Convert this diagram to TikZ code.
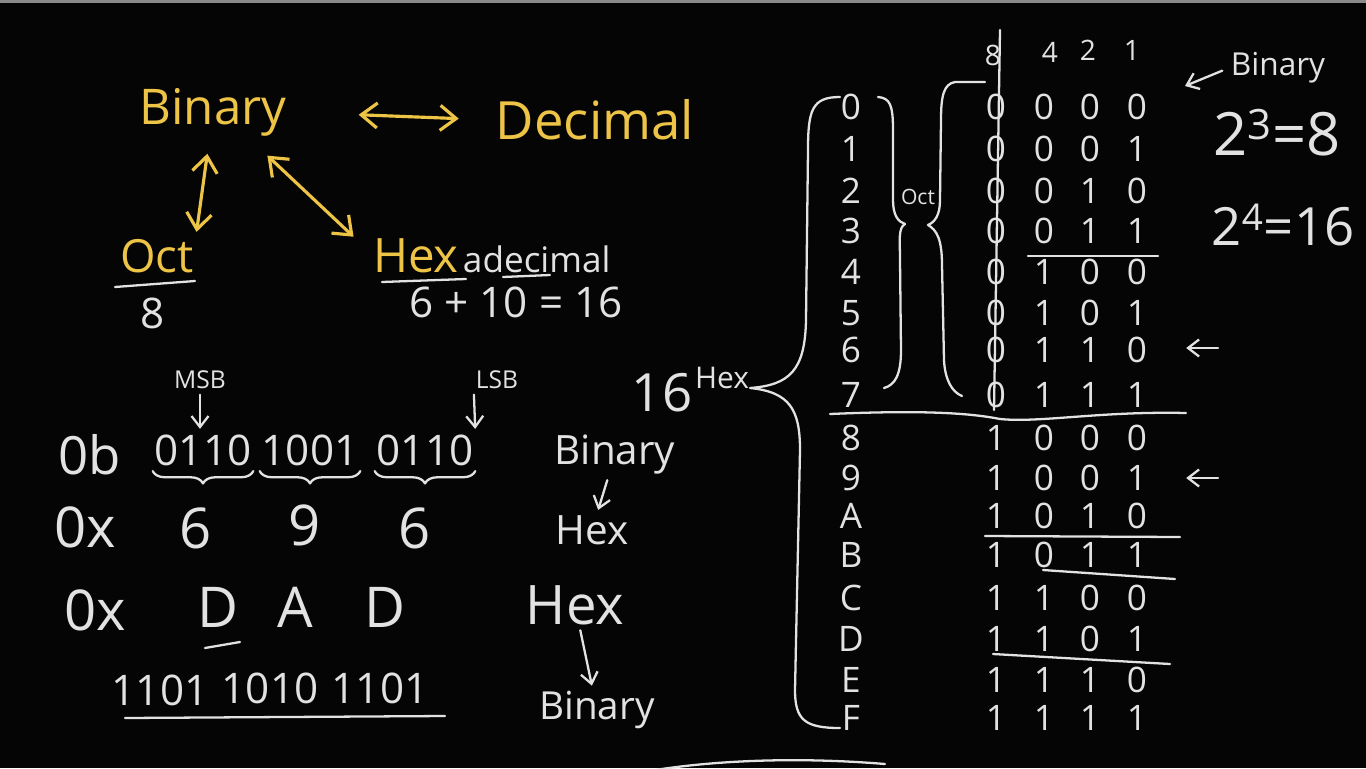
\documentclass[tikz,border=0pt]{standalone}
\usepackage{fontspec}
\setmainfont{Open Sans}
\usepackage{tikz}
\usetikzlibrary{arrows.meta,decorations.pathreplacing,positioning}
\definecolor{bbBoard}{HTML}{050505}
\definecolor{bbChalk}{HTML}{E2E2E2}
\definecolor{bbGold}{HTML}{EEC446}
\definecolor{bbEdge}{HTML}{8A8A8A}
\newcommand{\bbsize}[1]{\fontsize{#1}{#1}\selectfont}
\tikzset{
  bb board/.style={x=0.02cm, y=-0.02cm, line cap=round, line join=round},
  bb chalk/.style={text=bbChalk, inner sep=1pt},
  bb gold/.style={text=bbGold, inner sep=1pt},
  bb line/.style={draw=bbChalk, line width=1.3pt},
  bb arrow/.style={bb line, -{Straight Barb[length=2.2mm,width=3.4mm]}},
  bb gold arrow/.style={draw=bbGold, line width=1.8pt,
    {Straight Barb[length=3.2mm,width=5mm]}-{Straight Barb[length=3.2mm,width=5mm]}},
  bb brace/.style={bb line, decorate, decoration={brace, mirror, amplitude=7pt, raise=2pt}}
}

\begin{document}
\begin{tikzpicture}[bb board]
\useasboundingbox (0,0) rectangle (1366,768);
\fill[bbBoard] (0,0) rectangle (1366,768);
\fill[bbEdge] (0,0) rectangle (1366,3);

% number systems
\node[bb gold, font=\bbsize{28}] (bin) at (213,112) {Binary};
\node[bb gold, font=\bbsize{30}] (dec) at (595,120) {Decimal};
\node[bb gold, font=\bbsize{26}] (oct) at (157,256) {Oct};
\node[bb chalk, font=\bbsize{24}] (oct8) at (153,313) {8};
\node[bb gold, font=\bbsize{27}] (hex) at (416,256) {Hex};
\node[bb chalk, font=\bbsize{20}, anchor=base west] (hexdec) at (hex.base east) {adecimal};
\node[bb chalk, font=\bbsize{24}] (sum) at (516,302) {6 + 10 = 16};
\draw[bb gold arrow, shorten <=40pt, shorten >=20pt] (bin.east) -- (dec.west);
\draw[bb gold arrow, shorten <=9pt, shorten >=3pt] ([xshift=-2pt]bin.south) -- (oct.north east);
\draw[bb gold arrow] ([xshift=-12pt,yshift=-10pt]bin.south east) -- ([xshift=-10pt]hex.north west);
\draw[bb line] (115,287) -- (195,281);
\draw[bb line] (382,282) -- (466,279);
\draw[bb line] (503,277) -- (550,275);

% worked example
\node[bb chalk, font=\bbsize{14}] (msb) at (200,380) {MSB};
\node[bb chalk, font=\bbsize{14}] (lsb) at (497,380) {LSB};
\node[bb chalk, font=\bbsize{30}] (pre0b) at (90,455) {0b};
\node[bb chalk, font=\bbsize{24}] (nib1) at (203,450) {0110};
\node[bb chalk, font=\bbsize{24}] (nib2) at (310,450) {1001};
\node[bb chalk, font=\bbsize{24}] (nib3) at (425,450) {0110};
\draw[bb arrow, shorten <=2pt, shorten >=2pt] (msb.south) -- (msb.south |- nib1.north);
\draw[bb arrow, shorten <=2pt, shorten >=2pt] (lsb.south west) -- (nib3.north east);
\foreach \n in {nib1,nib2,nib3}
  \draw[bb brace] (\n.south west) -- (\n.south east);
\node[bb chalk, font=\bbsize{32}] (px1) at (85,527) {0x};
\node[bb chalk, font=\bbsize{32}] (d6a) at (196,528) {6};
\node[bb chalk, font=\bbsize{32}] (d9) at (305,525) {9};
\node[bb chalk, font=\bbsize{32}] (d6b) at (415,528) {6};
\node[bb chalk, font=\bbsize{32}] (px2) at (95,610) {0x};
\node[bb chalk, font=\bbsize{32}] (hD1) at (218,607) {D};
\node[bb chalk, font=\bbsize{32}] (hA) at (295,607) {A};
\node[bb chalk, font=\bbsize{32}] (hD2) at (385,607) {D};
\draw[bb line] (205,648) -- (240,642);
\node[bb chalk, font=\bbsize{24}] (q1) at (160,690) {1101};
\node[bb chalk, font=\bbsize{24}] (q2) at (270,688) {1010};
\node[bb chalk, font=\bbsize{24}] (q3) at (380,688) {1101};
\draw[bb line] (125,718) -- (445,716);

% conversions
\node[bb chalk, font=\bbsize{23}] (rb1) at (615,455) {Binary};
\node[bb chalk, font=\bbsize{23}] (rh1) at (592,530) {Hex};
\node[bb chalk, font=\bbsize{31}] (rh2) at (575,605) {Hex};
\node[bb chalk, font=\bbsize{22}] (rb2) at (597,710) {Binary};
\draw[bb arrow, shorten <=2pt, shorten >=2pt] (rb1) -- (rh1);
\draw[bb arrow, shorten <=2pt, shorten >=2pt] (rh2) -- (rb2);

% table
\node[bb chalk, font=\bbsize{30}] (n16) at (662,393) {16};
\node[bb chalk, font=\bbsize{17}] (hexlbl) at (722,378) {Hex};
\node[bb chalk, font=\bbsize{16}] (h8) at (993,55) {8};
\node[bb chalk, font=\bbsize{16}] (h4) at (1050,52) {4};
\node[bb chalk, font=\bbsize{16}] (h2) at (1088,50) {2};
\node[bb chalk, font=\bbsize{16}] (h1) at (1132,50) {1};
\foreach \d/\ry [count=\i from 0] in {0/107,1/149,2/191,3/231,4/272,5/313,6/350,7/395,
    8/438,9/478,A/516,B/555,C/598,D/639,E/680,F/718} {
  \pgfmathtruncatemacro\bD{floor(\i/8)}
  \pgfmathtruncatemacro\bC{mod(floor(\i/4),2)}
  \pgfmathtruncatemacro\bB{mod(floor(\i/2),2)}
  \pgfmathtruncatemacro\bA{mod(\i,2)}
  \node[bb chalk, font=\bbsize{20}] (hx\i) at (851,\ry) {\d};
  \node[bb chalk, font=\bbsize{20}] (b\i-3) at (996,\ry) {\bD};
  \node[bb chalk, font=\bbsize{20}] (b\i-2) at (1044,\ry) {\bC};
  \node[bb chalk, font=\bbsize{20}] (b\i-1) at (1090,\ry) {\bB};
  \node[bb chalk, font=\bbsize{20}] (b\i-0) at (1137,\ry) {\bA};
}
\draw[bb line] (1000,30) -- (994,410);
\draw[bb line] (1028,256) -- (1158,256);
\draw[bb line] (830,414) .. controls (900,411) and (960,411) .. (1000,419)
  .. controls (1040,423) and (1100,411) .. (1186,413);
\draw[bb line] (985,536) -- (1180,537);
\draw[bb line] (1043,570) -- (1175,579);
\draw[bb line] (993,654) -- (1170,664);
% braces
\draw[bb line] (840,97) .. controls (812,97) and (808,110) .. (808,150)
  -- (806,320) .. controls (805,370) and (790,385) .. (750,388)
  .. controls (790,392) and (800,410) .. (800,450)
  -- (795,690) .. controls (795,720) and (805,728) .. (840,728);
\draw[bb line] (878,97) .. controls (890,98) and (893,105) .. (893,130)
  -- (893,200) .. controls (893,215) and (898,222) .. (905,224)
  .. controls (898,228) and (900,240) .. (900,260)
  -- (901,350) .. controls (901,375) and (895,385) .. (884,388);
\draw[bb line] (985,82) -- (955,82) .. controls (944,84) and (941,95) .. (941,120)
  -- (940,200) .. controls (940,215) and (935,222) .. (928,225)
  .. controls (937,230) and (942,240) .. (942,265)
  -- (944,360) .. controls (945,380) and (952,392) .. (962,396);
\node[bb chalk, font=\bbsize{12}] (octlbl) at (918,197) {Oct};

% notes
\node[bb chalk, font=\bbsize{18}] (bnote) at (1278,68) {Binary};
\coordinate (bmark) at (1185,86);
\draw[bb arrow, shorten <=4pt] (bnote.west) -- (bmark);
\node[bb chalk, font=\bbsize{34}] (pow3) at (1277,133) {2\textsuperscript{3}=8};
\node[bb chalk, font=\bbsize{30}] (pow4) at (1283,225) {2\textsuperscript{4}=16};
\coordinate (m6) at (1218,348);
\coordinate (m9) at (1218,478);
\draw[bb arrow, shorten >=28pt] (m6) -- (m6 -| b6-0);
\draw[bb arrow, shorten >=28pt] (m9) -- (m9 -| b9-0);
\draw[bb line] (655,770) .. controls (720,760) and (800,757) .. (885,764);
\end{tikzpicture}
\end{document}
